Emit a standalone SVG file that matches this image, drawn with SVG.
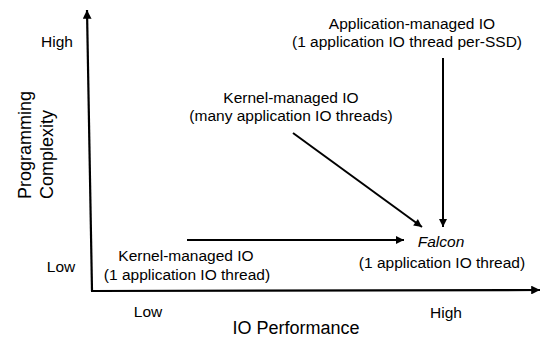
<svg xmlns="http://www.w3.org/2000/svg" width="541" height="339" viewBox="0 0 541 339">
<style>
text{font-family:"Liberation Sans",Arial,sans-serif;fill:#000}
.l{font-size:15.5px;text-anchor:middle}
.t{font-size:18px;text-anchor:middle}
.v{font-size:18px;text-anchor:start}
.ln{stroke:#000;stroke-width:2;fill:none}
.ax{stroke:#000;stroke-width:2.2;fill:none}
</style>
<defs>
<marker id="ah" viewBox="0 0 10 10" refX="10" refY="5" markerWidth="4.5" markerHeight="4" markerUnits="strokeWidth" orient="auto">
<path d="M0,0 L10,5 L0,10 z" fill="#000"/>
</marker>
</defs>
<rect width="541" height="339" fill="#fff"/>
<g id="axes">
<line class="ax" x1="92" y1="291" x2="87" y2="10" marker-end="url(#ah)"/>
<line class="ax" x1="91" y1="291" x2="540" y2="290" marker-end="url(#ah)"/>
<text class="l" x="57" y="47">High</text>
<text class="l" x="61" y="272">Low</text>
<text class="l" x="148" y="317">Low</text>
<text class="l" x="446" y="318">High</text>
<text class="t" x="296" y="334">IO Performance</text>
<text class="v" transform="translate(31,199) rotate(-90)">Programming</text>
<text class="v" transform="translate(53,199) rotate(-90)">Complexity</text>
</g>
<g id="app-managed">
<text class="l" x="412" y="29">Application-managed IO</text>
<text class="l" x="407" y="47">(1 application IO thread per-SSD)</text>
</g>
<g id="kernel-many">
<text class="l" x="291" y="103">Kernel-managed IO</text>
<text class="l" x="291" y="121">(many application IO threads)</text>
</g>
<g id="kernel-one">
<text class="l" x="186" y="261">Kernel-managed IO</text>
<text class="l" x="187" y="280">(1 application IO thread)</text>
</g>
<g id="falcon">
<text class="l" x="441" y="247" font-style="italic">Falcon</text>
<text class="l" x="442" y="268">(1 application IO thread)</text>
</g>
<g id="connectors">
<line class="ln" x1="187" y1="240" x2="404" y2="240" marker-end="url(#ah)"/>
<line class="ln" x1="293" y1="133" x2="422" y2="227" marker-end="url(#ah)"/>
<line class="ln" x1="443" y1="58" x2="443" y2="227" marker-end="url(#ah)"/>
</g>
</svg>
